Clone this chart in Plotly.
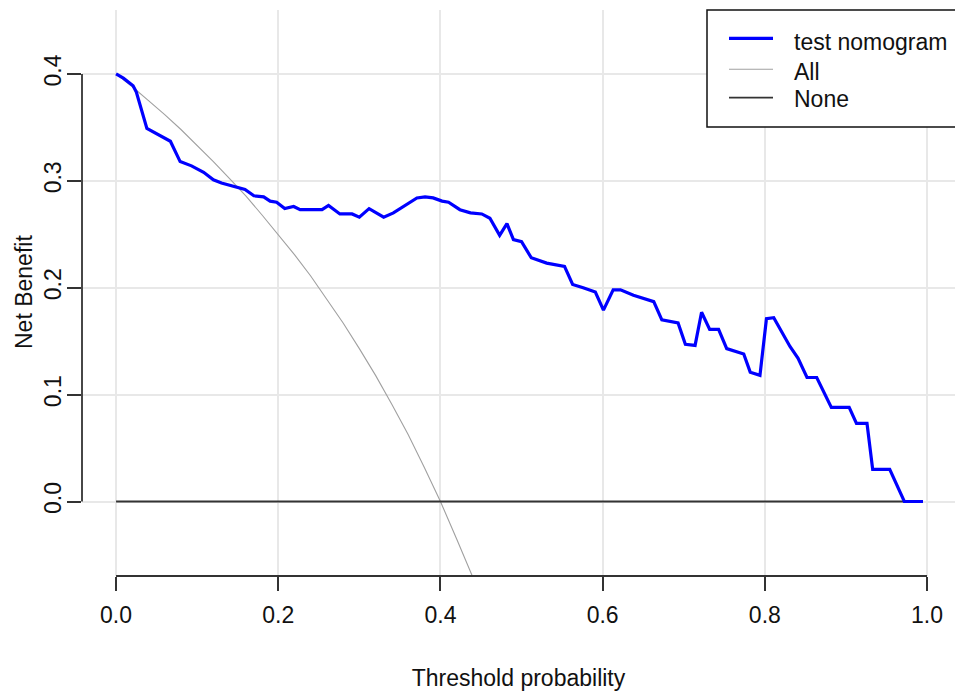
import plotly.graph_objects as go

# ---- data ----
nomo_x = [0.0, 0.009, 0.021, 0.025, 0.038, 0.050, 0.067, 0.079, 0.093, 0.108,
          0.120, 0.130, 0.145, 0.159, 0.170, 0.182, 0.190, 0.198, 0.208, 0.219,
          0.227, 0.254, 0.262, 0.276, 0.291, 0.300, 0.312, 0.330, 0.342, 0.354,
          0.371, 0.381, 0.391, 0.402, 0.410, 0.424, 0.437, 0.451, 0.461, 0.473,
          0.482, 0.490, 0.500, 0.512, 0.531, 0.553, 0.563, 0.576, 0.591, 0.601,
          0.613, 0.622, 0.638, 0.663, 0.673, 0.693, 0.702, 0.714, 0.722, 0.732,
          0.743, 0.753, 0.774, 0.782, 0.794, 0.802, 0.811, 0.831, 0.841, 0.852,
          0.864, 0.882, 0.904, 0.913, 0.926, 0.933, 0.954, 0.972, 0.995]
nomo_y = [0.400, 0.396, 0.389, 0.383, 0.349, 0.344, 0.337, 0.318, 0.314, 0.308,
          0.301, 0.298, 0.295, 0.292, 0.286, 0.285, 0.281, 0.280, 0.274, 0.276,
          0.273, 0.273, 0.277, 0.269, 0.269, 0.266, 0.274, 0.266, 0.270, 0.276,
          0.284, 0.285, 0.284, 0.281, 0.280, 0.273, 0.270, 0.269, 0.265, 0.249,
          0.260, 0.245, 0.243, 0.228, 0.223, 0.220, 0.203, 0.200, 0.196, 0.179,
          0.198, 0.198, 0.193, 0.187, 0.170, 0.167, 0.147, 0.146, 0.177, 0.161,
          0.161, 0.143, 0.138, 0.121, 0.118, 0.171, 0.172, 0.145, 0.134, 0.116,
          0.116, 0.088, 0.088, 0.073, 0.073, 0.030, 0.030, 0.0, 0.0]

all_x = [0.00, 0.02, 0.04, 0.06, 0.08, 0.10, 0.12, 0.14, 0.16, 0.18, 0.20, 0.22,
         0.24, 0.26, 0.28, 0.30, 0.32, 0.34, 0.36, 0.38, 0.40, 0.42, 0.44]
all_y = [0.400, 0.388, 0.375, 0.362, 0.348, 0.333, 0.318, 0.302, 0.286, 0.268,
         0.250, 0.231, 0.211, 0.189, 0.167, 0.143, 0.118, 0.091, 0.063, 0.032,
         0.000, -0.035, -0.071]

none_x = [0.0, 0.995]
none_y = [0.0, 0.0]

x_ticks = [0.0, 0.2, 0.4, 0.6, 0.8, 1.0]
x_tick_labels = ["0.0", "0.2", "0.4", "0.6", "0.8", "1.0"]
y_ticks = [0.0, 0.1, 0.2, 0.3, 0.4]
y_tick_labels = ["0.0", "0.1", "0.2", "0.3", "0.4"]

series_names = ["test nomogram", "All", "None"]
x_title = "Threshold probability"
y_title = "Net Benefit"

# ---- figure ----
W, H = 955, 691
ML, MR, MT, MB = 82, 0, 10, 115
FONT = "Liberation Sans, Arial, sans-serif"
AXC = "#333333"
TXT = "#111111"


def px_x(p):
    return (p - ML) / (W - ML - MR)


def px_y(p):
    return (H - MB - p) / (H - MT - MB)


fig = go.Figure()
fig.add_trace(go.Scatter(x=all_x, y=all_y, mode="lines", name=series_names[1],
                         line=dict(color="#a0a0a0", width=1.1)))
fig.add_trace(go.Scatter(x=none_x, y=none_y, mode="lines", name=series_names[2],
                         line=dict(color=AXC, width=1.8)))
fig.add_trace(go.Scatter(x=nomo_x, y=nomo_y, mode="lines", name=series_names[0],
                         line=dict(color="#0000ff", width=3.2)))

shapes = [
    # axis lines (R style, spanning only the tick range)
    dict(type="line", xref="x", yref="paper", x0=x_ticks[0], x1=x_ticks[-1], y0=0, y1=0,
         line=dict(color=AXC, width=1.8)),
    dict(type="line", xref="paper", yref="y", x0=0, x1=0, y0=y_ticks[0], y1=y_ticks[-1],
         line=dict(color=AXC, width=1.8)),
    # legend box
    dict(type="rect", xref="paper", yref="paper", x0=px_x(707), x1=px_x(975),
         y0=px_y(127), y1=px_y(10), fillcolor="white", line=dict(color=TXT, width=1.5),
         layer="above"),
    dict(type="line", xref="paper", yref="paper", x0=px_x(729), x1=px_x(773),
         y0=px_y(38.3), y1=px_y(38.3), line=dict(color="#0000ff", width=3.2), layer="above"),
    dict(type="line", xref="paper", yref="paper", x0=px_x(729), x1=px_x(773),
         y0=px_y(69.3), y1=px_y(69.3), line=dict(color="#a0a0a0", width=1.1), layer="above"),
    dict(type="line", xref="paper", yref="paper", x0=px_x(729), x1=px_x(773),
         y0=px_y(97.7), y1=px_y(97.7), line=dict(color=AXC, width=1.8), layer="above"),
]

annotations = []
for name, yy in zip(series_names, [41.7, 71.5, 99.0]):
    annotations.append(dict(text=name, xref="paper", yref="paper", x=px_x(792), y=px_y(yy),
                            xanchor="left", yanchor="middle", showarrow=False,
                            font=dict(family=FONT, size=23, color=TXT)))
# y-axis title, placed like R's mtext
annotations.append(dict(text=y_title, xref="paper", yref="paper", x=px_x(24), y=px_y(292),
                        xanchor="center", yanchor="middle", textangle=-90, showarrow=False,
                        font=dict(family=FONT, size=23, color=TXT)))

fig.update_layout(
    width=W, height=H,
    margin=dict(l=ML, r=MR, t=MT, b=MB, pad=0),
    paper_bgcolor="white", plot_bgcolor="white",
    showlegend=False,
    font=dict(family=FONT, size=23, color=TXT),
    shapes=shapes, annotations=annotations,
    xaxis=dict(range=[-0.042, 1.0345], tickvals=x_ticks, ticktext=x_tick_labels,
               showgrid=True, gridcolor="#e8e8e8", gridwidth=1.5, zeroline=False,
               showline=False, ticks="outside", ticklen=14, tickwidth=1.8, tickcolor=AXC,
               tickfont=dict(size=23), automargin=False, ticklabelstandoff=4,
               title=dict(text=x_title, standoff=43, font=dict(size=23))),
    yaxis=dict(range=[-0.0697, 0.4598], tickvals=y_ticks, ticktext=y_tick_labels,
               showgrid=True, gridcolor="#e8e8e8", gridwidth=1.5, zeroline=False,
               showline=False, ticks="outside", ticklen=14, tickwidth=1.8, tickcolor=AXC,
               tickangle=-90, tickfont=dict(size=23), automargin=False,
               ticklabelstandoff=-3),
)

fig.write_html("out.html", config={"displayModeBar": False},
               post_script="document.body.style.margin='0';document.body.style.overflow='hidden';")
